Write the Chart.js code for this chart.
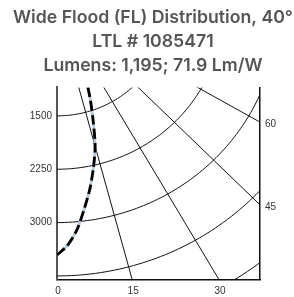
<!DOCTYPE html>
<html>
<head>
<meta charset="utf-8">
<script src="https://cdn.jsdelivr.net/npm/chart.js@4.4.1/dist/chart.umd.min.js"></script>
<style>
html,body{margin:0;padding:0;background:#fff;overflow:hidden;}
#wrap{width:294px;height:297px;position:relative;}
</style>
</head>
<body>
<div id="wrap"><canvas id="c" width="294" height="297"></canvas></div>
<script>
// ---- data ----
const titleLines = ["Wide Flood (FL) Distribution, 40°", "LTL # 1085471", "Lumens: 1,195; 71.9 Lm/W"];
// candela distribution (vertical angle in degrees, candela)
const planeAngles = [0, 2.5, 5, 7.5, 10, 12.5, 15, 17.5, 20, 22.5, 25, 30, 35, 40, 45, 50, 60, 70, 80, 90];
const candela0 =    [3456, 3320, 3110, 2830, 2565, 2280, 1995, 1620, 1290, 960, 660, 320, 160, 90, 55, 35, 20, 10, 5, 0];
const candela90 =   [3456, 3320, 3110, 2830, 2565, 2280, 1995, 1620, 1290, 960, 660, 320, 160, 90, 55, 35, 20, 10, 5, 0];
// iso-candela rings and radial angle lines of the polar grid
const ringValues = [750, 1500, 2250, 3000, 3750, 4500, 5250];
const radialAngles = [15, 30, 45, 60, 75, 90];
// tick labels
const leftTicks = [1500, 2250, 3000];
const bottomAngleTicks = [0, 15, 30];
const rightAngleTicks = [45, 60];
// visible window (candela units)
const xMin = 0, xMax = 2750, yMin = -3800, yMax = -1100;

const rad = d => d * Math.PI / 180;
const toXY = (ang, cd) => ({x: cd * Math.sin(rad(ang)), y: -cd * Math.cos(rad(ang))});

const curve0 = planeAngles.map((a, i) => toXY(a, candela0[i]));
const curve90 = planeAngles.map((a, i) => toXY(a, candela90[i]));

const gridSets = [];
ringValues.forEach(r => {
  const pts = [];
  for (let a = 0; a <= 90; a += 1) pts.push(toXY(a, r));
  gridSets.push({data: pts, borderColor: '#111', borderWidth: 1, pointRadius: 0, showLine: true, tension: 0, clip: 0, order: 5});
});
radialAngles.forEach(a => {
  gridSets.push({data: [toXY(a, 0), toXY(a, 8000)], borderColor: '#111', borderWidth: 1, pointRadius: 0, showLine: true, tension: 0, clip: 0, order: 5});
});

const tickFont = {family: 'Liberation Sans', size: 10};
const bottomMap = new Map(bottomAngleTicks.map(a => [(-yMin) * Math.tan(rad(a)), String(a)]));
const rightMap = new Map(rightAngleTicks.map(a => [-xMax / Math.tan(rad(a)), String(a)]));

new Chart(document.getElementById('c'), {
  type: 'scatter',
  data: {
    datasets: [
      {data: curve0, borderColor: '#000', borderWidth: 2.8, borderDash: [10, 4], pointRadius: 0, showLine: true, tension: 0.3, clip: 0, order: 1},
      {data: curve90, borderColor: '#b7c7dc', borderWidth: 2.8, pointRadius: 0, showLine: true, tension: 0.3, clip: 0, order: 2},
      ...gridSets
    ]
  },
  options: {
    responsive: false,
    animation: false,
    devicePixelRatio: 1,
    layout: {padding: {left: 12, right: 0, top: 0, bottom: 0}},
    plugins: {
      legend: {display: false},
      tooltip: {enabled: false},
      title: {
        display: true,
        text: titleLines,
        color: '#555',
        font: {family: 'Inter', size: 17.7, weight: '600', lineHeight: 1.345},
        padding: {top: 6, bottom: 10}
      }
    },
    scales: {
      x: {
        type: 'linear', position: 'bottom', min: xMin, max: xMax,
        grid: {display: false, drawTicks: false},
        border: {display: true, color: '#111', width: 1.5},
        afterBuildTicks: s => { s.ticks = [...bottomMap.keys()].map(v => ({value: v})); },
        afterFit: s => { s.height = 17.5; },
        ticks: {font: tickFont, color: '#333', padding: 6, labelOffset: 1, maxRotation: 0, autoSkip: false,
          callback: v => { for (const [k, l] of bottomMap) if (Math.abs(k - v) < 1e-6) return l; return ''; }}
      },
      y: {
        type: 'linear', position: 'left', min: yMin, max: yMax,
        grid: {display: false, drawTicks: false},
        border: {display: true, color: '#555', width: 2},
        afterBuildTicks: s => { s.ticks = leftTicks.map(v => ({value: -v})); },
        afterFit: s => { s.width = 45; },
        ticks: {font: tickFont, color: '#333', padding: 5, autoSkip: false, callback: v => String(-v)}
      },
      yR: {
        type: 'linear', position: 'right', min: yMin, max: yMax,
        grid: {display: false, drawTicks: false},
        border: {display: true, color: '#111', width: 1.5},
        afterBuildTicks: s => { s.ticks = [...rightMap.keys()].map(v => ({value: v})); },
        afterFit: s => { s.width = 34; },
        ticks: {font: tickFont, color: '#333', padding: 5, labelOffset: 2.5, autoSkip: false,
          callback: v => { for (const [k, l] of rightMap) if (Math.abs(k - v) < 1e-6) return l; return ''; }}
      }
    }
  }
});
</script>
</body>
</html>
